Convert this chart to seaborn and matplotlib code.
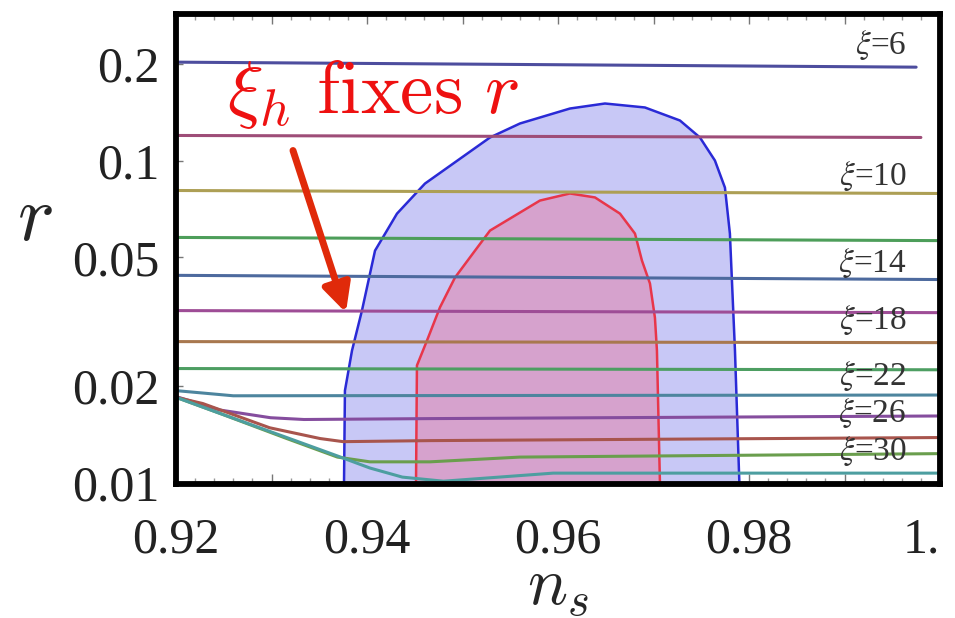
import matplotlib
matplotlib.use("Agg")
import matplotlib.pyplot as plt
import matplotlib.ticker as mticker
import seaborn as sns
import pandas as pd

# ---------------- data ----------------
xi_values = [6, 8, 10, 12, 14, 16, 18, 20, 22, 24, 26, 28, 30]
labelled_xi = [6, 10, 14, 18, 22, 26, 30]
label_r = [0.2276, 0.0898, 0.0482, 0.0319, 0.0215, 0.0165, 0.01257]

line_ns = {
    6: [0.92, 0.9975],
    8: [0.92, 0.998],
    10: [0.92, 1.0],
    12: [0.92, 1.0],
    14: [0.92, 1.0],
    16: [0.92, 1.0],
    18: [0.92, 1.0],
    20: [0.92, 1.0],
    22: [0.92, 0.926, 1.0],
    24: [0.92, 0.9246, 0.9299, 0.9334, 0.9466, 1.0],
    26: [0.92, 0.9228, 0.9298, 0.9351, 0.9375, 0.9466, 1.0],
    28: [0.92, 0.9246, 0.9316, 0.9369, 0.9403, 0.9466, 0.956, 1.0],
    30: [0.92, 0.9246, 0.9316, 0.9369, 0.9403, 0.9437, 0.948, 0.9595, 1.0],
}
line_r = {
    6: [0.2020, 0.1949],
    8: [0.1196, 0.1179],
    10: [0.0807, 0.0790],
    12: [0.0577, 0.0564],
    14: [0.0440, 0.0427],
    16: [0.0342, 0.0337],
    18: [0.0274, 0.0272],
    20: [0.0226, 0.0224],
    22: [0.0193, 0.0186, 0.0187],
    24: [0.0185, 0.0168, 0.0159, 0.0157, 0.0158, 0.0161],
    26: [0.0184, 0.0176, 0.0148, 0.0137, 0.0134, 0.0135, 0.0138],
    28: [0.0184, 0.0164, 0.0137, 0.0120, 0.0116, 0.0116, 0.0120, 0.0123],
    30: [0.0184, 0.0164, 0.0138, 0.0121, 0.0111, 0.0104, 0.0101, 0.0107, 0.0107],
}

blue_ns = [0.93759, 0.93769, 0.93843, 0.93947, 0.94084, 0.94314, 0.94607, 0.95288,
           0.95602, 0.96125, 0.96492, 0.96910, 0.97277, 0.97486, 0.97643, 0.97748,
           0.97800, 0.97853, 0.9790]
blue_r = [0.0098, 0.0193, 0.0257, 0.0342, 0.0525, 0.0684, 0.0848, 0.1179,
          0.1303, 0.1450, 0.1503, 0.1461, 0.1331, 0.1179, 0.1000, 0.0824,
          0.0593, 0.0257, 0.0098]

red_ns = [0.94513, 0.94523, 0.94628, 0.94764, 0.94921, 0.95131, 0.95288, 0.95811,
          0.96125, 0.96387, 0.96649, 0.96806, 0.96879, 0.96963, 0.97015, 0.97036,
          0.97068]
red_r = [0.0098, 0.0231, 0.0276, 0.0350, 0.0433, 0.0525, 0.0606, 0.0751,
         0.0790, 0.0768, 0.0684, 0.0593, 0.0489, 0.0415, 0.0325, 0.0257,
         0.0098]

x_ticks = [0.92, 0.94, 0.96, 0.98, 1.0]
x_ticklabels = ["0.92", "0.94", "0.96", "0.98", "1."]
y_ticks = [0.01, 0.02, 0.05, 0.1, 0.2]
y_ticklabels = ["0.01", "0.02", "0.05", "0.1", "0.2"]

line_colors = ["#4d4d9e", "#9e4d78", "#ad9f55", "#4d9e5a", "#4d6a9e", "#9e4d96",
               "#a8784f", "#4d9e62", "#4d859e", "#854d9e", "#a8554d", "#6a9e4d",
               "#4d9ea0"]

# ---------------- build figure ----------------
sns.set_theme(style="white")
plt.rcParams["font.family"] = ["Liberation Serif", "DejaVu Serif"]
plt.rcParams["mathtext.fontset"] = "cm"

fig = plt.figure(figsize=(9.55, 6.18), dpi=100)
ax = fig.add_axes([176 / 955, 1 - 484 / 618, 764 / 955, 470 / 618])

# confidence regions
ax.fill(blue_ns, blue_r, color="#c8c8f6", zorder=1, lw=0)
ax.fill(red_ns, red_r, color="#d6a2cd", zorder=1.5, lw=0)
ax.plot(blue_ns, blue_r, color="#2a2ad6", lw=1.8, zorder=2)
ax.plot(red_ns, red_r, color="#e8364a", lw=1.8, zorder=2)

# xi lines
rows = []
for xi in xi_values:
    for n, r in zip(line_ns[xi], line_r[xi]):
        rows.append({"ns": n, "r": r, "xi": xi})
df = pd.DataFrame(rows)
palette = dict(zip(xi_values, line_colors))
sns.lineplot(data=df, x="ns", y="r", hue="xi", palette=palette, sort=False,
             estimator=None, legend=False, lw=2.2, ax=ax, zorder=3)

for xi, yr in zip(labelled_xi, label_r):
    ax.text(0.9965, yr, r"$\xi$=%d" % xi, ha="right", va="center", fontsize=24,
            family="Liberation Serif", math_fontfamily="stix", color="#333333",
            zorder=4)

ax.set_yscale("log")
ax.set_xlim(0.92, 1.0)
ax.set_ylim(0.0099, 0.285)

ax.xaxis.set_major_locator(mticker.MultipleLocator(0.01))
ax.xaxis.set_minor_locator(mticker.MultipleLocator(0.002))
ax.xaxis.set_major_formatter(mticker.FuncFormatter(
    lambda v, p: dict(zip([round(t, 2) for t in x_ticks], x_ticklabels)).get(round(v, 2), "")))
ax.yaxis.set_major_locator(mticker.FixedLocator(y_ticks))
ax.yaxis.set_major_formatter(mticker.FixedFormatter(y_ticklabels))
ax.yaxis.set_minor_locator(mticker.NullLocator())

ax.tick_params(axis="x", which="major", direction="in", top=True, bottom=True,
               length=7, width=1, color="#777777", labelsize=36, pad=24)
ax.tick_params(axis="x", which="minor", direction="in", top=True, bottom=True,
               length=4, width=1, color="#999999")
ax.tick_params(axis="y", which="major", direction="in", left=True, length=5,
               width=1, color="#777777", labelsize=36, pad=12)
fig.canvas.draw()
for lab in ax.get_xticklabels() + ax.get_yticklabels():
    lab.set_color("#222222")
for lab in ax.get_xticklabels():
    if lab.get_text() == "1.":
        lab.set_horizontalalignment("right")

for s in ax.spines.values():
    s.set_linewidth(4.2)
    s.set_color("black")
    s.set_zorder(10)

ax.set_ylabel(r"$r$", fontsize=56, rotation=0, ha="center", va="center")
ax.yaxis.set_label_coords(-0.185, 0.56)
ax.set_xlabel(r"$n_s$", fontsize=48, va="center")
ax.xaxis.set_label_coords(0.50, -0.222)

# annotation
ax.text(0.92534, 0.140, r"$\xi_h\ \mathrm{fixes}\ r$", color="#ee1111",
        fontsize=54, ha="left", va="baseline", zorder=6)
ax.annotate("", xy=(0.93779, 0.0337), xytext=(0.93225, 0.1074),
            arrowprops=dict(arrowstyle="-|>,head_length=1.4,head_width=0.7",
                            color="#e02a0a", lw=5, shrinkA=0, shrinkB=0),
            zorder=6)

fig.savefig("out.png", dpi=100)
